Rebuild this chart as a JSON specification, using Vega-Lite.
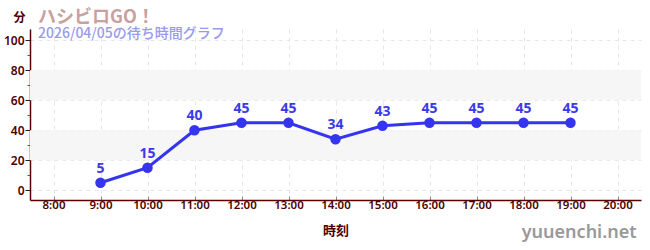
{
  "$schema": "https://vega.github.io/schema/vega-lite/v6.json",
  "width": 611,
  "height": 171,
  "autosize": {"type": "none"},
  "padding": {"left": 30, "top": 29, "right": 9, "bottom": 50},
  "background": "white",
  "config": {
    "view": {"stroke": null},
    "font": "Noto Sans CJK JP"
  },
  "title": {
    "text": "ハシビロGO！",
    "subtitle": "2026/04/05の待ち時間グラフ",
    "anchor": "start",
    "frame": "group",
    "orient": "top",
    "dx": 8,
    "dy": 18,
    "offset": -12,
    "fontSize": 18,
    "fontWeight": "bold",
    "color": "#c9a0a0",
    "subtitleFontSize": 14,
    "subtitleFontWeight": 500,
    "subtitleColor": "#9999ee",
    "subtitlePadding": 0,
    "subtitleFont": "Noto Sans CJK JP",
    "font": "Noto Sans CJK JP"
  },
  "datasets": {
    "waits": [
      {"time": "9:00", "wait": 5},
      {"time": "10:00", "wait": 15},
      {"time": "11:00", "wait": 40},
      {"time": "12:00", "wait": 45},
      {"time": "13:00", "wait": 45},
      {"time": "14:00", "wait": 34},
      {"time": "15:00", "wait": 43},
      {"time": "16:00", "wait": 45},
      {"time": "17:00", "wait": 45},
      {"time": "18:00", "wait": 45},
      {"time": "19:00", "wait": 45}
    ],
    "bands": [
      {"wait": 20, "wait2": 40},
      {"wait": 60, "wait2": 80}
    ],
    "mark": [
      {"time": "20:00", "wait": -6.5, "label": "yuuenchi.net"}
    ]
  },
  "encoding": {
    "y": {
      "field": "wait",
      "type": "quantitative",
      "scale": {"domain": [-6.5, 107.5], "nice": false, "zero": false},
      "axis": {
        "values": [0, 10, 20, 30, 40, 50, 60, 70, 80, 90, 100],
        "title": "分",
        "titleAngle": 0,
        "titleX": -11,
        "titleY": -12,
        "titleAlign": "center",
        "titleBaseline": "middle",
        "titleColor": "#4d0000",
        "titleFontSize": 12,
        "titleFontWeight": "bold",
        "labelExpr": "(datum.value % 20) == 0 ? datum.label : ''",
        "labelOverlap": false,
        "labelColor": "#4d0000",
        "labelFontSize": 12,
        "labelFontWeight": 600,
        "labelFont": "Noto Sans",
        "labelPadding": 1,
        "domainColor": "#5a0000",
        "domainWidth": 1.5,
        "tickColor": {"condition": {"test": "(datum.value % 20) != 0", "value": "#dd2222"}, "value": "#222222"},
        "tickSize": {"condition": {"test": "(datum.value % 20) != 0", "value": 3}, "value": 5},
        "grid": true,
        "gridColor": "#e6e6e6",
        "gridDash": [4, 4],
        "gridOpacity": {"condition": {"test": "(datum.value % 20) != 0", "value": 0}, "value": 1}
      }
    }
  },
  "layer": [
    {
      "data": {"name": "bands"},
      "mark": {"type": "rect", "color": "#f6f6f6"},
      "encoding": {
        "y2": {"field": "wait2"}
      }
    },
    {
      "data": {"name": "waits"},
      "mark": {"type": "line", "color": "#3535f0", "strokeWidth": 3},
      "encoding": {
        "x": {
          "field": "time",
          "type": "ordinal",
          "scale": {"type": "point", "padding": 0.5, "domain": ["8:00", "9:00", "10:00", "11:00", "12:00", "13:00", "14:00", "15:00", "16:00", "17:00", "18:00", "19:00", "20:00"]},
          "sort": null,
          "axis": {
            "title": "時刻",
            "titleColor": "#4d0000",
            "titleFontSize": 13,
            "titleFontWeight": "bold",
            "titlePadding": 14,
            "labelAngle": 0,
            "labelColor": "#4d0000",
            "labelFontSize": 11.5,
            "labelFontWeight": 600,
            "labelFont": "Noto Sans",
            "labelOverlap": false,
            "labelPadding": 3,
            "domainColor": "#5a0000",
            "domainWidth": 1.5,
            "tickColor": "#888888",
            "tickSize": -4,
            "grid": true,
            "gridColor": "#e6e6e6",
            "gridDash": [4, 4]
          }
        }
      }
    },
    {
      "data": {"name": "waits"},
      "mark": {"type": "point", "filled": true, "color": "#3535f0", "size": 110, "opacity": 1},
      "encoding": {
        "x": {"field": "time", "type": "ordinal", "sort": null}
      }
    },
    {
      "data": {"name": "waits"},
      "mark": {"type": "text", "color": "#3a3ae8", "fontSize": 14, "fontWeight": "bold", "dy": -14, "font": "Noto Sans"},
      "encoding": {
        "x": {"field": "time", "type": "ordinal", "sort": null},
        "text": {"field": "wait", "type": "quantitative"}
      }
    },
    {
      "data": {"name": "mark"},
      "mark": {"type": "text", "color": "#999999", "fontSize": 18, "font": "Noto Sans", "fontWeight": 600, "align": "right", "baseline": "middle", "dx": 19, "dy": 33},
      "encoding": {
        "x": {"field": "time", "type": "ordinal", "sort": null},
        "text": {"field": "label"}
      }
    }
  ]
}
